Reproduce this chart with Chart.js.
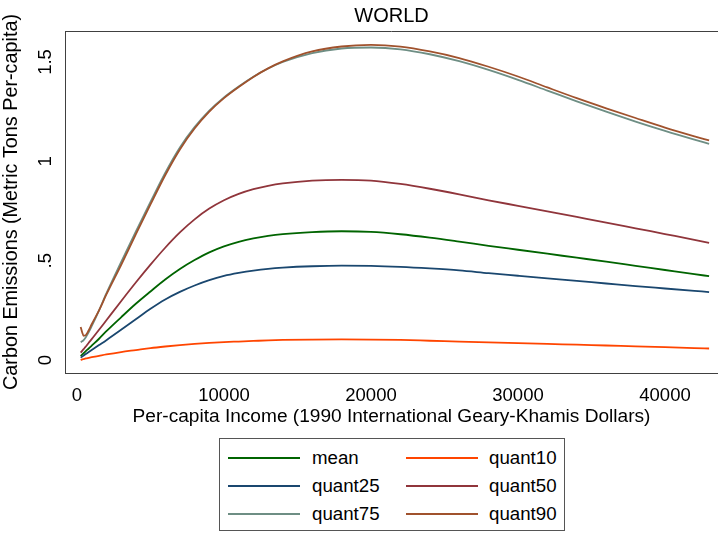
<!DOCTYPE html>
<html>
<head>
<meta charset="utf-8">
<script src="https://cdn.jsdelivr.net/npm/chart.js@4/dist/chart.umd.min.js"></script>
<style>
  html, body { margin: 0; padding: 0; background: #fff; overflow: hidden; }
  #wrap { position: relative; width: 718px; height: 536px; }
  #legend {
    position: absolute; left: 219px; top: 438px; width: 346px; height: 93px;
    box-sizing: border-box; border: 1px solid #555; background: #fff;
    font-family: "Liberation Sans", Arial, sans-serif; font-size: 18.7px; color: #000;
  }
  .swatch { position: absolute; width: 72px; height: 2px; }
  .lab { position: absolute; line-height: 20px; white-space: nowrap; }
</style>
</head>
<body>
<div id="wrap">
  <canvas id="c" width="718" height="536"></canvas>
  <div id="legend"></div>
</div>
<script>
// Per-capita income (1990 Geary-Khamis dollars) at which each fitted curve is sampled
const income = [250, 350, 450, 600, 800, 1000, 1500, 2000, 3000, 4000, 5000, 6000, 7000, 8000, 9000,
                10000, 11000, 12000, 13000, 14000, 16000, 18000, 20000, 22000, 24000, 26000,
                28000, 30000, 32000, 34000, 36000, 38000, 40000, 42000, 43000];

// Carbon emissions (metric tons per capita) for each series
const meanFit = [0.020, 0.027, 0.034, 0.045, 0.058, 0.072, 0.107, 0.145, 0.215, 0.283, 0.345, 0.405, 0.458, 0.503, 0.542,
                 0.572, 0.595, 0.612, 0.625, 0.634, 0.644, 0.648, 0.645, 0.633, 0.616, 0.596,
                 0.575, 0.555, 0.535, 0.515, 0.495, 0.474, 0.453, 0.432, 0.422];
const quant10 = [0.000, 0.003, 0.005, 0.008, 0.011, 0.014, 0.021, 0.028, 0.040, 0.050, 0.060, 0.068, 0.075, 0.081, 0.086,
                 0.090, 0.093, 0.096, 0.099, 0.101, 0.103, 0.104, 0.103, 0.101, 0.097, 0.093,
                 0.089, 0.085, 0.081, 0.077, 0.073, 0.069, 0.065, 0.060, 0.058];
const quant25 = [0.012, 0.017, 0.022, 0.030, 0.040, 0.050, 0.075, 0.100, 0.152, 0.205, 0.258, 0.305, 0.343, 0.375, 0.402,
                 0.423, 0.438, 0.450, 0.459, 0.465, 0.472, 0.475, 0.474, 0.469, 0.461, 0.451,
                 0.437, 0.424, 0.411, 0.398, 0.385, 0.372, 0.360, 0.348, 0.342];
const quant50 = [0.037, 0.046, 0.055, 0.068, 0.087, 0.105, 0.152, 0.200, 0.296, 0.390, 0.480, 0.565, 0.642, 0.708, 0.762,
                 0.804, 0.836, 0.860, 0.877, 0.889, 0.903, 0.907, 0.903, 0.886, 0.862, 0.834,
                 0.804, 0.776, 0.748, 0.720, 0.692, 0.663, 0.634, 0.605, 0.590];
const quant75 = [0.090, 0.094, 0.100, 0.115, 0.140, 0.170, 0.250, 0.335, 0.492, 0.646, 0.796, 0.942, 1.070, 1.172, 1.255,
                 1.322, 1.377, 1.426, 1.467, 1.500, 1.545, 1.568, 1.573, 1.564, 1.539, 1.504,
                 1.460, 1.410, 1.356, 1.302, 1.250, 1.200, 1.153, 1.109, 1.088];
const quant90 = [0.166, 0.140, 0.122, 0.125, 0.150, 0.180, 0.250, 0.330, 0.478, 0.632, 0.783, 0.930, 1.060, 1.165, 1.250,
                 1.318, 1.374, 1.425, 1.468, 1.503, 1.553, 1.578, 1.586, 1.577, 1.553, 1.520,
                 1.476, 1.427, 1.372, 1.318, 1.267, 1.218, 1.170, 1.126, 1.105];

const xTicks = [0, 10000, 20000, 30000, 40000];
const yTicks = [0, 0.5, 1, 1.5];

const seriesNames = ['mean', 'quant10', 'quant25', 'quant50', 'quant75', 'quant90'];
const seriesValues = [meanFit, quant10, quant25, quant50, quant75, quant90];
const seriesColors = ['#006400', '#ff4500', '#1a476f', '#90353b', '#6e8e84', '#a0522d'];

const FONT = '"Liberation Sans", Arial, sans-serif';

const datasets = seriesNames.map((name, k) => ({
  label: name,
  data: income.map((x, i) => ({ x: x, y: seriesValues[k][i] })),
  borderColor: seriesColors[k],
  backgroundColor: seriesColors[k],
  borderWidth: 1.8,
  pointRadius: 0,
  fill: false,
  cubicInterpolationMode: 'monotone',
  order: seriesNames.length - k   // later series sit on top
}));

// top edge of the plot frame
const frameTop = {
  id: 'frameTop',
  beforeDatasetsDraw(chart) {
    const { ctx, chartArea } = chart;
    ctx.save();
    ctx.strokeStyle = '#404040';
    ctx.lineWidth = 1;
    ctx.beginPath();
    ctx.moveTo(chartArea.left, chartArea.top + 0.5);
    ctx.lineTo(chartArea.right, chartArea.top + 0.5);
    ctx.stroke();
    ctx.restore();
  }
};

const chart = new Chart(document.getElementById('c'), {
  type: 'line',
  data: { datasets },
  plugins: [frameTop],
  options: {
    responsive: false,
    animation: false,
    layout: { padding: { top: 0, right: 0, bottom: 103, left: 0 } },
    plugins: {
      legend: { display: false },
      tooltip: { enabled: false },
      title: {
        display: true, text: 'WORLD', color: '#000', fullSize: false,
        font: { family: FONT, size: 20, weight: 'normal', lineHeight: 1.2 },
        padding: { top: 4, bottom: 3 }
      }
    },
    scales: {
      x: {
        type: 'linear', min: -816, max: 43606,
        afterBuildTicks: s => { s.ticks = xTicks.map(v => ({ value: v })); },
        afterFit: s => { s.height = 60; },
        grid: { display: false, drawOnChartArea: false, drawTicks: true, tickLength: 8, tickColor: '#404040' },
        border: { display: true, color: '#404040', width: 1 },
        ticks: {
          color: '#000', font: { family: FONT, size: 18.5 }, padding: 4,
          maxRotation: 0, minRotation: 0,
          callback: v => String(v)
        },
        title: {
          display: true, text: 'Per-capita Income (1990 International Geary-Khamis Dollars)',
          color: '#000', font: { family: FONT, size: 19.1 }, padding: { top: 0, bottom: 5 }
        }
      },
      y: {
        type: 'linear', min: -0.0654, max: 1.656,
        afterBuildTicks: s => { s.ticks = yTicks.map(v => ({ value: v })); },
        afterFit: s => { s.width = 65; },
        grid: { display: false, drawOnChartArea: false, drawTicks: true, tickLength: 8, tickColor: '#404040' },
        border: { display: true, color: '#404040', width: 1 },
        ticks: {
          color: '#000', font: { family: FONT, size: 18.5 }, padding: -2,
          minRotation: 90, maxRotation: 90, crossAlign: 'center',
          callback: v => (v === 0 ? '0' : String(v).replace(/^0\./, '.'))
        },
        title: {
          display: true, text: 'Carbon Emissions (Metric Tons Per-capita)',
          color: '#000', font: { family: FONT, size: 19.8 }, padding: { top: 0, bottom: 0 }
        }
      }
    }
  }
});

// two-column key built from the chart's own datasets
const legend = document.getElementById('legend');
const colLeft = [8, 186], textLeft = [92, 269], rowMid = [18.7, 47, 74.7];
chart.data.datasets.forEach((ds, i) => {
  const col = i % 2, row = Math.floor(i / 2);
  const sw = document.createElement('div');
  sw.className = 'swatch';
  sw.style.left = colLeft[col] + 'px';
  sw.style.top = (rowMid[row] - 1) + 'px';
  sw.style.background = ds.borderColor;
  legend.appendChild(sw);
  const t = document.createElement('div');
  t.className = 'lab';
  t.style.left = textLeft[col] + 'px';
  t.style.top = (rowMid[row] - 10) + 'px';
  t.textContent = ds.label;
  legend.appendChild(t);
});
</script>
</body>
</html>
